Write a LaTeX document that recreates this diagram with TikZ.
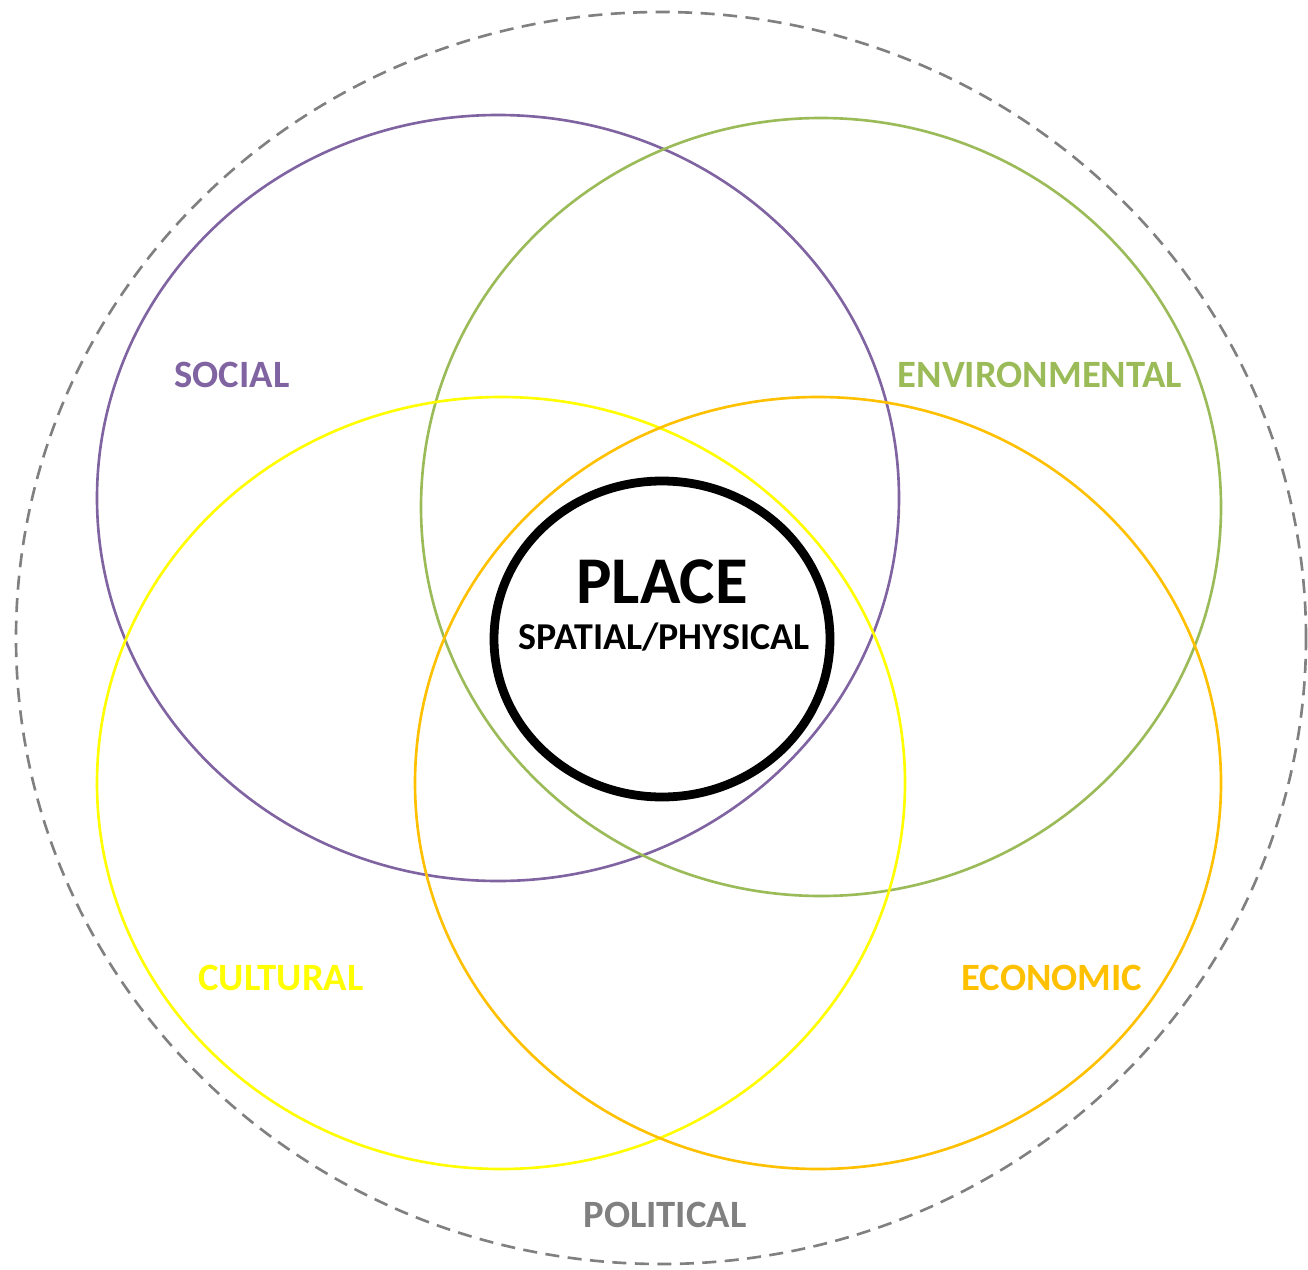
\documentclass[tikz,border=0pt]{standalone}
\usepackage{xcolor}
\usepackage{tikz}
\usepackage{fontspec}
\setmainfont{Carlito}
\definecolor{socialpurple}{RGB}{128,100,162}
\definecolor{envgreen}{RGB}{155,187,89}
\definecolor{cultyellow}{RGB}{255,255,0}
\definecolor{econorange}{RGB}{255,192,0}
\definecolor{polgray}{RGB}{128,128,128}

\begin{document}
\begin{tikzpicture}
\useasboundingbox (0,0) rectangle (13.08,12.69);

% Political boundary
\draw[polgray, line width=0.75pt, dash pattern=on 4pt off 2.4pt] (6.61,6.31) ellipse [x radius=6.45, y radius=6.26];

% Four spheres
\foreach \x/\y/\rx/\ry/\col in {4.98/7.71/4.01/3.83/socialpurple, 8.21/7.62/4.00/3.89/envgreen, 5.01/4.86/4.04/3.86/cultyellow, 8.18/4.86/4.03/3.86/econorange} {
    \draw[\col, line width=0.75pt] (\x,\y) ellipse [x radius=\rx, y radius=\ry];
}

% Place
\draw[line width=2.5pt] (6.62,6.30) ellipse [x radius=1.68, y radius=1.58];
\node (place) at (6.62,6.87) {\fontsize{19}{19}\selectfont\textbf{PLACE}};
\node (spatial) at (6.64,6.32) {\fontsize{10.8}{12}\selectfont\textbf{SPATIAL/PHYSICAL}};

% Labels
\node (social) at (2.32,8.94) {\fontsize{11}{12}\selectfont\textbf{\textcolor{socialpurple}{SOCIAL}}};
\node (environmental) at (10.40,8.94) {\fontsize{11}{12}\selectfont\textbf{\textcolor{envgreen}{ENVIRONMENTAL}}};
\node (cultural) at (2.81,2.91) {\fontsize{11}{12}\selectfont\textbf{\textcolor{cultyellow}{CULTURAL}}};
\node (economic) at (10.52,2.91) {\fontsize{11}{12}\selectfont\textbf{\textcolor{econorange}{ECONOMIC}}};
\node (political) at (6.65,0.54) {\fontsize{11}{12}\selectfont\textbf{\textcolor{polgray}{POLITICAL}}};
\end{tikzpicture}
\end{document}
